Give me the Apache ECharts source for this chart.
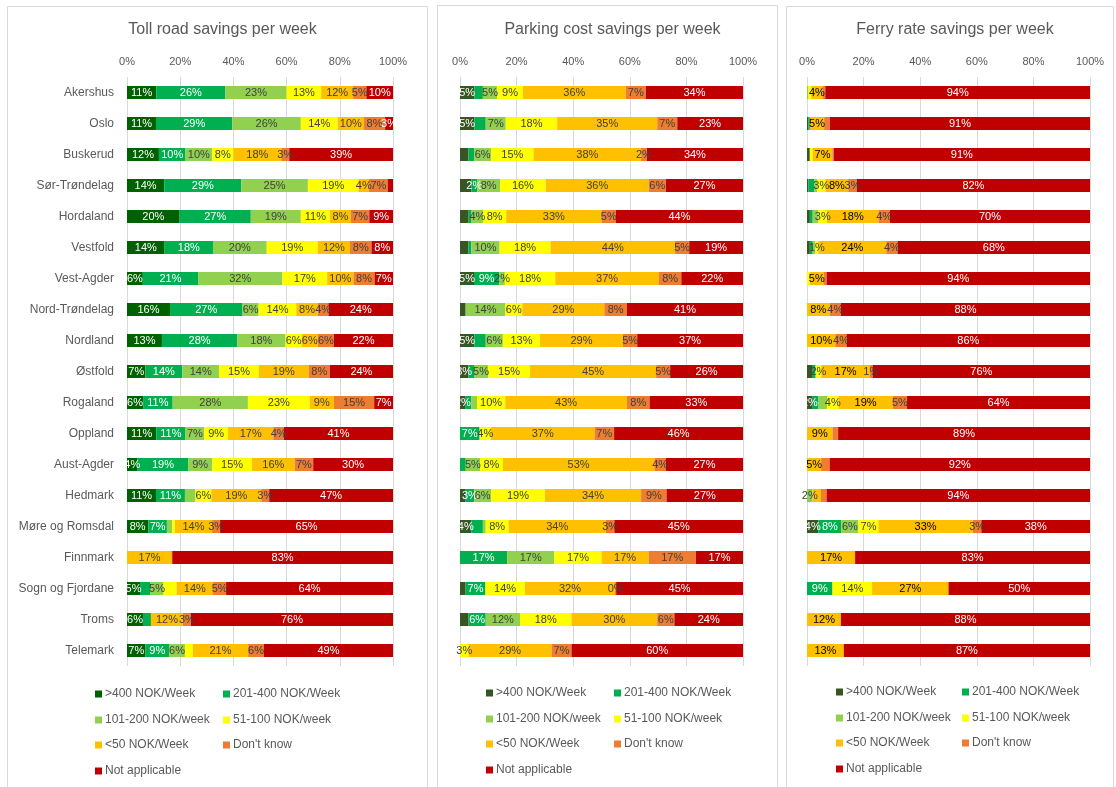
<!DOCTYPE html>
<html><head><meta charset="utf-8">
<script src="https://cdn.jsdelivr.net/npm/echarts/dist/echarts.min.js"></script>
<style>html,body{margin:0;padding:0;background:#fff}#c{width:1116px;height:787px}</style>
</head><body><div id="c"></div>
<script>
// ---------- DATA ----------
const regions = ['Akershus','Oslo','Buskerud','Sør-Trøndelag','Hordaland','Vestfold','Vest-Agder','Nord-Trøndelag','Nordland','Østfold','Rogaland','Oppland','Aust-Agder','Hedmark','Møre og Romsdal','Finnmark','Sogn og Fjordane','Troms','Telemark'];
const categories = ['>400 NOK/Week','201-400 NOK/Week','101-200 NOK/week','51-100 NOK/week','<50 NOK/Week',"Don't know",'Not applicable'];
const titles = ['Toll road savings per week','Parking cost savings per week','Ferry rate savings per week'];
const xTickValues = [0,20,40,60,80,100];

// rows follow regions, columns follow categories (percent)
const tollRoad = [
  [11,26,23,13,12,5,10],
  [11,29,26,14,10,8,3],
  [12,10,10,8,18,3,39],
  [14,29,25,19,4,7,2],
  [20,27,19,11,8,7,9],
  [14,18,20,19,12,8,8],
  [6,21,32,17,10,8,7],
  [16,27,6,14,8,4,24],
  [13,28,18,6,6,6,22],
  [7,14,14,15,19,8,24],
  [6,11,28,23,9,15,7],
  [11,11,7,9,17,4,41],
  [4,19,9,15,16,7,30],
  [11,11,4,6,19,3,47],
  [8,7,2,1,14,3,65],
  [0,0,0,0,17,0,83],
  [5,4,5,5,14,5,64],
  [6,3,0,0,12,3,76],
  [7,9,6,3,21,6,49]
];
const parkingCost = [
  [5,3,5,9,36,7,34],
  [5,4,7,18,35,7,23],
  [3,2,6,15,38,2,34],
  [4,2,8,16,36,6,27],
  [3,1,4,8,33,5,44],
  [3,1,10,18,44,5,19],
  [5,9,2,18,37,8,22],
  [2,0,14,6,29,8,41],
  [5,4,6,13,29,5,37],
  [3,2,5,15,45,5,26],
  [2,2,2,10,43,8,33],
  [0,7,0,4,37,7,46],
  [0,2,5,8,53,4,27],
  [2,3,6,19,34,9,27],
  [4,4,1,8,34,3,45],
  [0,17,17,17,17,17,17],
  [2,7,0,14,32,0.4,45],
  [3,6,12,18,30,6,24],
  [0,0,0,3,29,7,60]
];
const ferryRate = [
  [0,0,0.5,1,4,1,94],
  [0.5,0.5,0,0,5,2,91],
  [1,0,0,1,7,0.5,91],
  [0.5,2,1,3,8,3,82],
  [1,1,2,3,18,4,70],
  [1,1,1,1,24,4,68],
  [0,0,0,1,5,1,94],
  [0,0,0,0,8,4,88],
  [0,0,0,0,10,4,86],
  [2,1,0,2,17,1,76],
  [2,2,3,4,19,5,64],
  [0,0,0,0,9,2,89],
  [0,0,0,0,5,3,92],
  [0,0,2,0,3,2,94],
  [4,8,6,7,33,3,38],
  [0,0,0,0,17,0,83],
  [0,9,0,14,27,0,50],
  [0,0,0,0,12,0,88],
  [0,0,0,0,13,0,87]
];
// segments whose data label is not shown in the source: [row, category]
const tollNoLabel = [[3,6],[13,2],[14,2],[14,3],[16,1],[16,3],[17,1],[18,3]];
const parkingNoLabel = [[0,1],[1,1],[2,0],[2,1],[3,0],[4,0],[4,1],[5,0],[5,1],[7,0],[8,1],[9,1],[10,1],[10,2],[12,1],[13,0],[14,1],[14,2],[16,0],[17,0]];
const ferryNoLabel = [[0,2],[0,3],[0,5],[1,0],[1,1],[1,5],[2,0],[2,3],[2,5],[3,0],[3,1],[3,2],[4,0],[4,1],[4,2],[5,0],[5,1],[5,2],[6,3],[6,5],[9,0],[9,1],[10,1],[10,2],[11,5],[12,5],[13,4],[13,5]];

// ---------- STYLE ----------
const FONT = '"Liberation Sans", Arial, sans-serif';
const GREY = '#595959';
const colorsToll = ['#006100','#00B050','#92D050','#FFFF00','#FFC000','#ED7D31','#C00000'];
const colorsOther = ['#375623','#00B050','#92D050','#FFFF00','#FFC000','#ED7D31','#C00000'];
const labelColors = ['#ffffff','#ffffff','#404040','#404040','#404040','#404040','#ffffff'];

const panels = [
  {data: tollRoad, noLabel: tollNoLabel, colors: colorsToll, gridLeft: 127, gridWidth: 266, box:[7.5,6.5,420,800], legendX:[95,223], legendY:[696,722,747,773], showY:true, darkOrange:false},
  {data: parkingCost, noLabel: parkingNoLabel, colors: colorsOther, gridLeft: 460, gridWidth: 283, box:[437.5,5.5,340,800], legendX:[486,614], legendY:[695,721,746,772], showY:false, darkOrange:false},
  {data: ferryRate, noLabel: ferryNoLabel, colors: colorsOther, gridLeft: 807, gridWidth: 283, box:[786.5,6.5,327,800], legendX:[836,962], legendY:[694,720,745,771], showY:false, darkOrange:true}
];

const grid = [], xAxis = [], yAxis = [], series = [], title = [], legend = [], graphic = [];
panels.forEach((p, pi) => {
  grid.push({left: p.gridLeft, top: 77, width: p.gridWidth, height: 589, containLabel: false, outerBoundsMode: 'none'});
  xAxis.push({
    type: 'value', gridIndex: pi, position: 'top', min: 0, max: 100, interval: 20,
    axisLine: {show: false}, axisTick: {show: false},
    splitLine: {show: true, showMinLine: true, showMaxLine: true, lineStyle: {color: '#D9D9D9', width: 1}},
    axisLabel: {formatter: v => xTickValues.includes(v) ? v + '%' : '', fontSize: 11, color: GREY, fontFamily: FONT, margin: 10}
  });
  yAxis.push({
    type: 'category', gridIndex: pi, data: regions, inverse: true,
    axisLine: {show: false}, axisTick: {show: false}, splitLine: {show: false},
    axisLabel: {show: p.showY, fontSize: 12, color: GREY, fontFamily: FONT, margin: 13}
  });
  const box = p.box;
  graphic.push({type: 'rect', silent: true, shape: {x: box[0], y: box[1], width: box[2], height: box[3]}, style: {fill: 'none', stroke: '#D9D9D9', lineWidth: 1}});
  title.push({text: titles[pi], left: box[0] + box[2] / 2, top: 17, textAlign: 'center',
    textStyle: {fontSize: 16, fontWeight: 'normal', color: GREY, fontFamily: FONT}});
  const hidden = new Set(p.noLabel.map(a => a[0] + '_' + a[1]));
  categories.forEach((cat, ci) => {
    const lc = (p.darkOrange && ci === 4) ? '#000000' : labelColors[ci];
    series.push({
      type: 'bar', name: cat, stack: 'panel' + pi, xAxisIndex: pi, yAxisIndex: pi,
      barWidth: 13, itemStyle: {color: p.colors[ci]},
      label: {show: true, position: 'inside', fontSize: 11, fontFamily: FONT, color: lc, textBorderWidth: 0,
        formatter: prm => Math.round(prm.data.raw) + '%'},
      emphasis: {disabled: true},
      data: p.data.map((row, ri) => {
        const total = row.reduce((a, b) => a + b, 0);
        const item = {value: row[ci] / total * 100, raw: row[ci]};
        if (row[ci] === 0 || hidden.has(ri + '_' + ci)) item.label = {show: false};
        return item;
      })
    });
  });
  // legend: 2 columns x 4 rows
  categories.forEach((cat, ci) => {
    legend.push({
      data: [{name: cat, itemStyle: {color: p.colors[ci]}}],
      left: p.legendX[ci % 2], top: p.legendY[Math.floor(ci / 2)] - 8,
      icon: 'rect', itemWidth: 7, itemHeight: 7, padding: 0, itemGap: 0,
      selectedMode: false,
      textStyle: {fontSize: 12, color: GREY, fontFamily: FONT, padding: [0, 0, 0, -2]}
    });
  });
});

const chart = echarts.init(document.getElementById('c'), null, {renderer: 'canvas'});
chart.setOption({
  animation: false,
  backgroundColor: '#ffffff',
  textStyle: {fontFamily: FONT},
  title, grid, xAxis, yAxis, series, legend, graphic
});
</script>
</body></html>
